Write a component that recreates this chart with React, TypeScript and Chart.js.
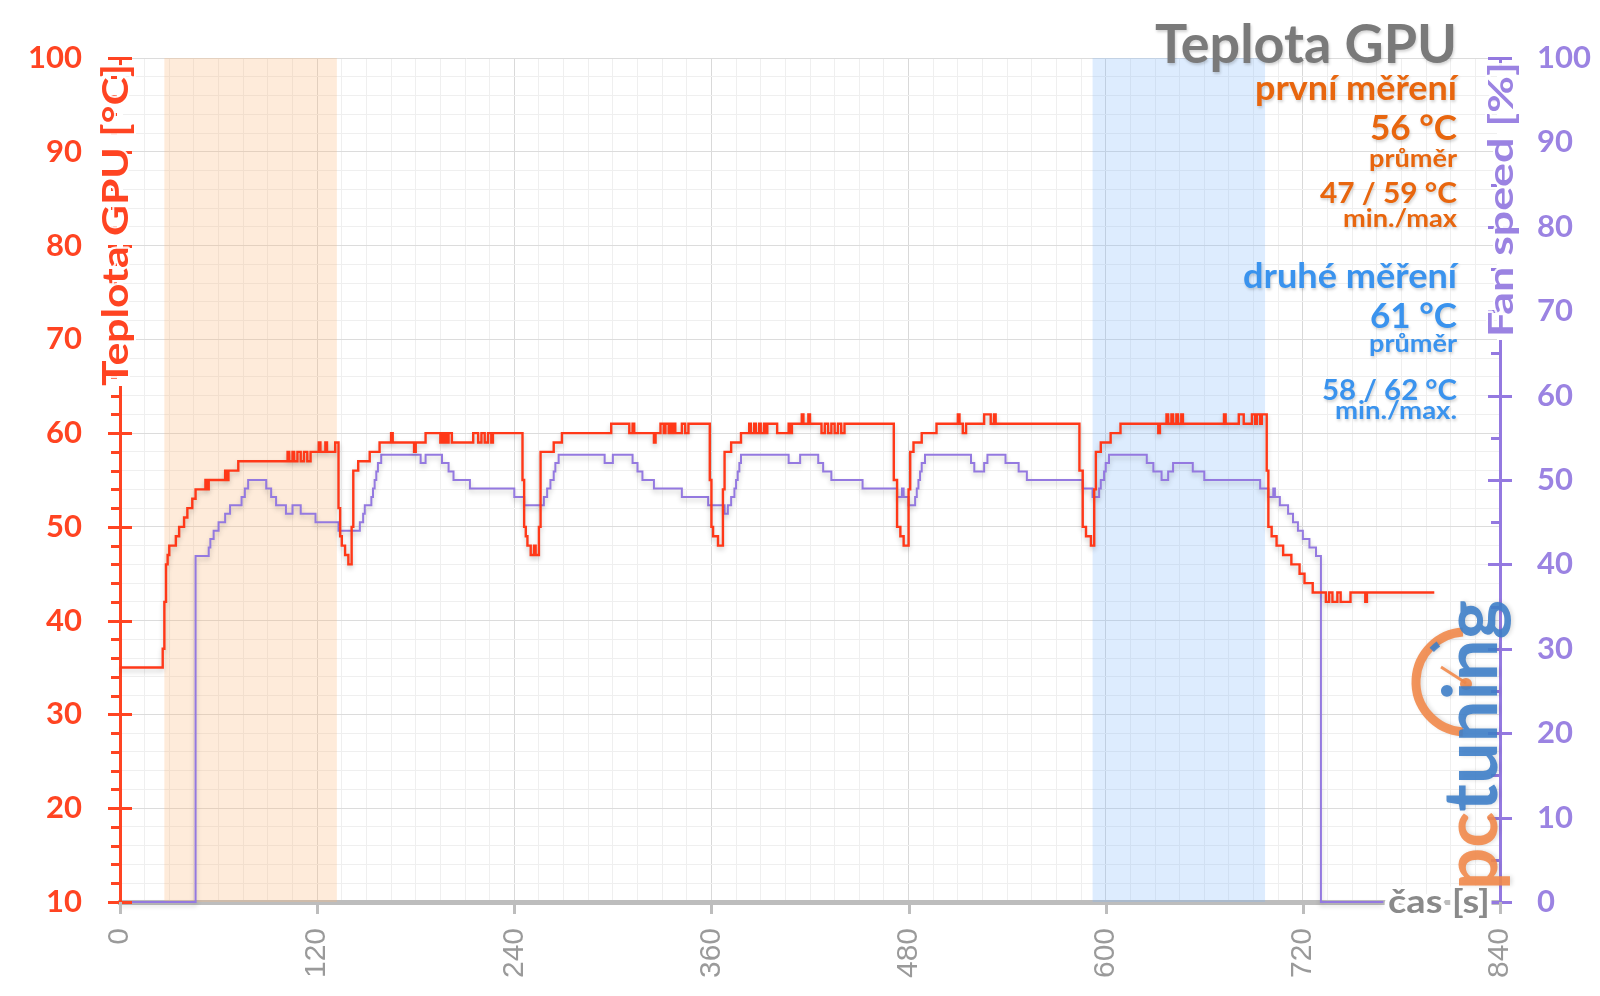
import React, { useEffect, useRef } from 'react';
import { Chart, registerables } from 'chart.js';

Chart.register(...registerables);

// ---------- DATA ----------
// GPU temperature [°C]: time [s] at which the value changes, and the new value
const tempTimes = [
  0, 26, 27, 28, 29, 30, 34, 36, 39, 41, 44, 46, 52, 53, 54, 64, 65, 66, 72, 102,
  103, 105, 106, 108, 110, 112, 114, 116, 121, 122, 125, 126, 131, 133, 134, 135, 137, 139, 141, 142,
  145, 152, 158, 165, 166, 179, 180, 186, 195, 196, 197, 198, 199, 200, 202, 215, 218, 220, 222, 224,
  226, 227, 245, 246, 247, 248, 250, 252, 253, 255, 256, 264, 269, 299, 310, 312, 313, 325, 326, 329,
  331, 332, 334, 335, 336, 337, 338, 342, 344, 346, 359, 360, 361, 364, 367, 368, 372, 378, 383, 384,
  386, 387, 389, 390, 392, 393, 394, 400, 407, 408, 409, 415, 416, 419, 420, 427, 429, 431, 433, 435,
  437, 439, 441, 471, 473, 475, 477, 480, 481, 483, 488, 497, 510, 511, 513, 515, 526, 530, 532, 533,
  584, 586, 588, 591, 593, 594, 597, 603, 609, 632, 633, 637, 638, 640, 641, 643, 644, 646, 647, 672,
  673, 681, 684, 689, 691, 692, 694, 695, 698, 699, 701, 704, 708, 713, 718, 721, 726, 734, 736, 738,
  741, 743, 749, 758, 759, 800,
];
const tempValues = [
  35, 37, 42, 46, 47, 48, 49, 50, 51, 52, 53, 54, 55, 54, 55, 56, 55, 56, 57, 58,
  57, 58, 57, 58, 57, 58, 57, 58, 59, 58, 59, 58, 59, 52, 49, 48, 47, 46, 50, 56,
  57, 58, 59, 60, 59, 58, 59, 60, 59, 60, 59, 60, 59, 60, 59, 60, 59, 60, 59, 60,
  59, 60, 55, 50, 49, 48, 47, 48, 47, 50, 58, 59, 60, 61, 60, 61, 60, 59, 60, 61,
  60, 61, 60, 61, 60, 61, 60, 61, 60, 61, 55, 50, 49, 48, 54, 58, 59, 60, 61, 60,
  61, 60, 61, 60, 61, 60, 61, 60, 61, 60, 61, 62, 61, 62, 61, 60, 61, 60, 61, 60,
  61, 60, 61, 55, 50, 49, 48, 54, 58, 59, 60, 61, 62, 61, 60, 61, 62, 61, 62, 61,
  56, 50, 49, 48, 54, 58, 59, 60, 61, 60, 61, 62, 61, 62, 61, 62, 61, 62, 61, 62,
  61, 62, 61, 62, 61, 62, 61, 62, 56, 50, 49, 48, 47, 46, 45, 44, 43, 42, 43, 42,
  43, 42, 43, 42, 43, 43,
];

// Fan speed [%]: time [s] at which the value changes, and the new value
const fanTimes = [
  0, 46, 54, 55, 57, 60, 64, 67, 74, 76, 78, 89, 92, 95, 101, 105, 110, 119, 133, 146,
  148, 149, 153, 154, 155, 156, 157, 159, 183, 186, 196, 200, 203, 213, 240, 246, 258, 260, 262, 264,
  265, 267, 295, 300, 312, 315, 318, 325, 342, 358, 368, 370, 372, 374, 375, 376, 377, 378, 407, 414,
  425, 428, 433, 452, 473, 476, 477, 480, 484, 485, 486, 487, 488, 490, 518, 520, 526, 528, 539, 547,
  552, 586, 592, 596, 597, 599, 600, 602, 625, 629, 634, 638, 641, 653, 660, 694, 699, 702, 703, 706,
  711, 714, 717, 720, 724, 728, 731, 769,
];
const fanValues = [
  0, 41, 42, 43, 44, 45, 46, 47, 48, 49, 50, 49, 48, 47, 46, 47, 46, 45, 44, 45,
  46, 47, 48, 49, 50, 51, 52, 53, 52, 53, 52, 51, 50, 49, 48, 47, 48, 49, 50, 51,
  52, 53, 52, 53, 52, 51, 50, 49, 48, 47, 46, 47, 48, 49, 50, 51, 52, 53, 52, 53,
  52, 51, 50, 49, 48, 49, 48, 47, 48, 49, 50, 51, 52, 53, 52, 51, 52, 53, 52, 51,
  50, 49, 48, 49, 50, 51, 52, 53, 52, 51, 50, 51, 52, 51, 50, 49, 48, 49, 48, 47,
  46, 45, 44, 43, 42, 41, 0, 0,
];

// highlighted measurement windows [s]
const bandStarts = [27, 592];
const bandEnds = [132, 697];

const chartTitle = 'Teplota GPU';
const leftAxisTitle = 'Teplota GPU [°C]';
const rightAxisTitle = 'Fan speed [%]';
const xAxisTitle = 'čas [s]';
const firstRunLabels = ['první měření', '56 °C', 'průměr', '47 / 59 °C', 'min./max'];
const secondRunLabels = ['druhé měření', '61 °C', 'průměr', '58 / 62 °C', 'min./max.'];
const logoParts = ['pc', 'tuning'];

// ---------- STYLE ----------
const RED_TEXT = '#ff4422';
const RED_LINE = '#ff3818';
const PURPLE_TEXT = '#9b83e2';
const PURPLE_LINE = '#9479e0';
const ORANGE_TEXT = '#e8660e';
const BLUE_TEXT = '#3a93ee';
const TITLE_GRAY = '#7a7a7a';
const AXIS_GRAY = '#bdbdbd';
const FONT = 'Lato';

// draws text with a given font size, squeezed/stretched along its direction to a given width
function drawSized(
  ctx: CanvasRenderingContext2D,
  text: string,
  x: number,
  y: number,
  size: number,
  width: number,
  align: CanvasTextAlign,
  baseline: CanvasTextBaseline,
  fill: string,
  outline?: { color: string; width: number }
) {
  ctx.save();
  ctx.font = `bold ${size}px ${FONT}`;
  const w = ctx.measureText(text).width;
  ctx.translate(x, y);
  ctx.scale(width / w, 1);
  ctx.textAlign = align;
  ctx.textBaseline = baseline;
  if (outline) {
    ctx.lineJoin = 'round';
    ctx.strokeStyle = outline.color;
    ctx.lineWidth = outline.width;
    ctx.strokeText(text, 0, 0);
  }
  ctx.fillStyle = fill;
  ctx.fillText(text, 0, 0);
  ctx.restore();
}

const decorPlugin = {
  id: 'decor',
  beforeDatasetsDraw(chart: any) {
    const { ctx, chartArea, scales } = chart;
    ctx.save();
    const colors = ['rgba(250,180,120,0.27)', 'rgba(120,180,250,0.25)'];
    for (let i = 0; i < bandStarts.length; i++) {
      const x0 = scales.x.getPixelForValue(bandStarts[i]);
      const x1 = scales.x.getPixelForValue(bandEnds[i]);
      ctx.fillStyle = colors[i];
      ctx.fillRect(x0, chartArea.top, x1 - x0, chartArea.bottom - chartArea.top);
    }
    ctx.restore();
  },
  beforeDatasetDraw(chart: any) {
    const ctx = chart.ctx;
    ctx.save();
    ctx.shadowColor = 'rgba(0,0,0,0.2)';
    ctx.shadowBlur = 5;
    ctx.shadowOffsetY = 3;
  },
  afterDatasetDraw(chart: any) {
    chart.ctx.restore();
  },
  afterDraw(chart: any) {
    const { ctx, chartArea, scales } = chart;
    const { left, right, top, bottom } = chartArea;
    const y = scales.y;
    const y1 = scales.y1;
    const x = scales.x;

    ctx.save();
    // left axis tick marks
    ctx.strokeStyle = RED_TEXT;
    ctx.lineWidth = 3;
    for (const t of y.ticks) {
      const py = Math.round(y.getPixelForValue(t.value)) + 0.5;
      const major = t.value % 10 === 0;
      ctx.beginPath();
      ctx.moveTo(left - (major ? 12 : 9), py);
      ctx.lineTo(left + (major ? 12 : 0), py);
      ctx.stroke();
    }
    // right axis tick marks
    ctx.strokeStyle = PURPLE_LINE;
    for (let v = 0; v <= 100; v += 5) {
      const py = Math.round(y1.getPixelForValue(v)) + 0.5;
      const major = v % 10 === 0;
      ctx.beginPath();
      ctx.moveTo(right - (major ? 12 : 9), py);
      ctx.lineTo(right + (major ? 12 : 0), py);
      ctx.stroke();
    }
    // x axis tick marks
    ctx.strokeStyle = AXIS_GRAY;
    ctx.lineWidth = 3;
    for (const t of x.ticks) {
      if (t.value % 120 !== 0) continue;
      const px = Math.round(x.getPixelForValue(t.value)) + 0.5;
      ctx.beginPath();
      ctx.moveTo(px, bottom);
      ctx.lineTo(px, bottom + 12);
      ctx.stroke();
    }
    ctx.restore();

    // left axis title (over the axis line)
    ctx.save();
    ctx.fillStyle = '#ffffff';
    ctx.fillRect(left - 3, top + 8, 6, 386 - top - 8);
    ctx.translate(114, 386);
    ctx.rotate(-Math.PI / 2);
    drawSized(ctx, leftAxisTitle, 0, 2, 37, 322, 'left', 'middle', RED_TEXT, {
      color: 'rgba(255,255,255,0.9)',
      width: 4,
    });
    ctx.restore();

    // right axis title
    ctx.save();
    ctx.fillStyle = '#ffffff';
    ctx.fillRect(right - 3, top + 8, 6, 340 - top - 8);
    ctx.translate(1500, 337);
    ctx.rotate(-Math.PI / 2);
    drawSized(ctx, rightAxisTitle, 0, 2, 35, 275, 'left', 'middle', PURPLE_TEXT, {
      color: 'rgba(255,255,255,0.9)',
      width: 4,
    });
    ctx.restore();

    // x axis title
    drawSized(ctx, xAxisTitle, 1490, bottom, 33, 102, 'right', 'middle', '#8a8a8a', {
      color: '#ffffff',
      width: 8,
    });

    // logo
    ctx.save();
    ctx.globalAlpha = 0.9;
    ctx.shadowColor = 'rgba(0,0,0,0.15)';
    ctx.shadowBlur = 4;
    ctx.shadowOffsetX = 2;
    ctx.strokeStyle = '#f28a4b';
    ctx.lineWidth = 9;
    ctx.beginPath();
    ctx.arc(1466, 682, 50, Math.PI * 0.52, Math.PI * 1.48);
    ctx.stroke();
    ctx.strokeStyle = '#3f7fc9';
    ctx.lineWidth = 6;
    ctx.beginPath();
    ctx.arc(1466, 682, 47, Math.PI * 1.24, Math.PI * 1.3);
    ctx.stroke();
    ctx.strokeStyle = '#f28a4b';
    ctx.lineWidth = 3;
    ctx.beginPath();
    ctx.moveTo(1466, 683);
    ctx.lineTo(1441, 667);
    ctx.stroke();
    ctx.fillStyle = '#f28a4b';
    ctx.beginPath();
    ctx.arc(1466, 684, 6, 0, Math.PI * 2);
    ctx.fill();
    ctx.translate(1497, 890);
    ctx.rotate(-Math.PI / 2);
    ctx.font = `bold 74px ${FONT}`;
    const wPc = ctx.measureText(logoParts[0]).width;
    const wAll = ctx.measureText(logoParts[0] + logoParts[1]).width;
    ctx.scale(290 / wAll, 1);
    ctx.textAlign = 'left';
    ctx.textBaseline = 'alphabetic';
    ctx.fillStyle = '#f28a4b';
    ctx.fillText(logoParts[0], 0, 0);
    ctx.fillStyle = '#3f7fc9';
    ctx.fillText(logoParts[1], wPc, 0);
    ctx.restore();

    // chart title and statistics
    ctx.save();
    ctx.shadowColor = 'rgba(0,0,0,0.18)';
    ctx.shadowBlur = 3;
    ctx.shadowOffsetX = 1;
    ctx.shadowOffsetY = 2;
    const rx = 1457;
    drawSized(ctx, chartTitle, rx, 63, 53, 302, 'right', 'alphabetic', TITLE_GRAY);

    const baseA = [100, 140, 166.5, 203, 226.5];
    const widthA = [202, 87, 88, 137, 114];
    const baseB = [288, 328, 351.5, 400, 418.5];
    const widthB = [214, 87, 88, 135, 122];
    const sizes = [34, 35, 25, 29, 24];
    firstRunLabels.forEach((s, i) => {
      drawSized(ctx, s, rx, baseA[i], sizes[i], widthA[i], 'right', 'alphabetic', ORANGE_TEXT);
    });
    secondRunLabels.forEach((s, i) => {
      drawSized(ctx, s, rx, baseB[i], sizes[i], widthB[i], 'right', 'alphabetic', BLUE_TEXT);
    });
    ctx.restore();
  },
};

export default function App() {
  const canvasRef = useRef<HTMLCanvasElement | null>(null);

  useEffect(() => {
    const canvas = canvasRef.current;
    if (!canvas) return;
    const tempData = tempTimes.map((t, i) => ({ x: t, y: tempValues[i] }));
    const fanData = fanTimes.map((t, i) => ({ x: t, y: fanValues[i] }));

    const chart = new Chart(canvas, {
      type: 'line',
      data: {
        datasets: [
          {
            label: 'Teplota GPU',
            data: tempData,
            yAxisID: 'y',
            borderColor: RED_LINE,
            borderWidth: 2.4,
            pointRadius: 0,
            stepped: true,
            clip: false as any,
          },
          {
            label: 'Fan speed',
            data: fanData,
            yAxisID: 'y1',
            borderColor: PURPLE_LINE,
            borderWidth: 2,
            pointRadius: 0,
            stepped: true,
            clip: false as any,
          },
        ],
      },
      options: {
        animation: false,
        responsive: false,
        maintainAspectRatio: false,
        layout: { padding: { top: 58, left: 0, right: 0, bottom: 0 } },
        plugins: { legend: { display: false }, tooltip: { enabled: false }, title: { display: false } },
        scales: {
          x: {
            type: 'linear',
            position: 'bottom',
            min: 0,
            max: 840,
            afterFit: (s: any) => {
              s.height = 94;
            },
            ticks: {
              stepSize: 15,
              autoSkip: false,
              minRotation: 90,
              maxRotation: 90,
              padding: 26,
              color: '#9a9a9a',
              font: { family: 'Liberation Sans', size: 30 },
              callback: (v: any) => (Number(v) % 120 === 0 ? String(v) : ''),
            },
            grid: {
              drawTicks: false,
              lineWidth: 1,
              color: (c: any) => (c.tick && c.tick.value % 120 === 0 ? '#d9d9d9' : '#efefef'),
            },
            border: { color: AXIS_GRAY, width: 5 },
          },
          y: {
            type: 'linear',
            position: 'left',
            min: 10,
            max: 100,
            afterFit: (s: any) => {
              s.width = 120;
            },
            ticks: {
              stepSize: 2,
              autoSkip: false,
              padding: 38,
              color: RED_TEXT,
              font: { family: FONT, size: 31, weight: 'bold' },
              callback: (v: any) => (Number(v) % 10 === 0 ? String(v) : ''),
            },
            grid: {
              drawTicks: false,
              lineWidth: 1,
              color: (c: any) => (c.tick && c.tick.value % 10 === 0 ? '#dcdcdc' : '#efefef'),
            },
            border: { color: RED_TEXT, width: 3 },
          },
          y1: {
            type: 'linear',
            position: 'right',
            min: 0,
            max: 100,
            afterFit: (s: any) => {
              s.width = 100;
            },
            ticks: {
              stepSize: 10,
              padding: 37,
              color: PURPLE_TEXT,
              font: { family: FONT, size: 31, weight: 'bold' },
            },
            grid: { drawOnChartArea: false, drawTicks: false },
            border: { color: PURPLE_LINE, width: 3 },
          },
        },
      } as any,
      plugins: [decorPlugin],
    });

    return () => {
      chart.destroy();
    };
  }, []);

  return (
    <div style={{ position: 'absolute', left: 0, top: 0, width: 1600, height: 996, background: '#ffffff' }}>
      <canvas ref={canvasRef} width={1600} height={996} style={{ display: 'block' }} />
    </div>
  );
}
